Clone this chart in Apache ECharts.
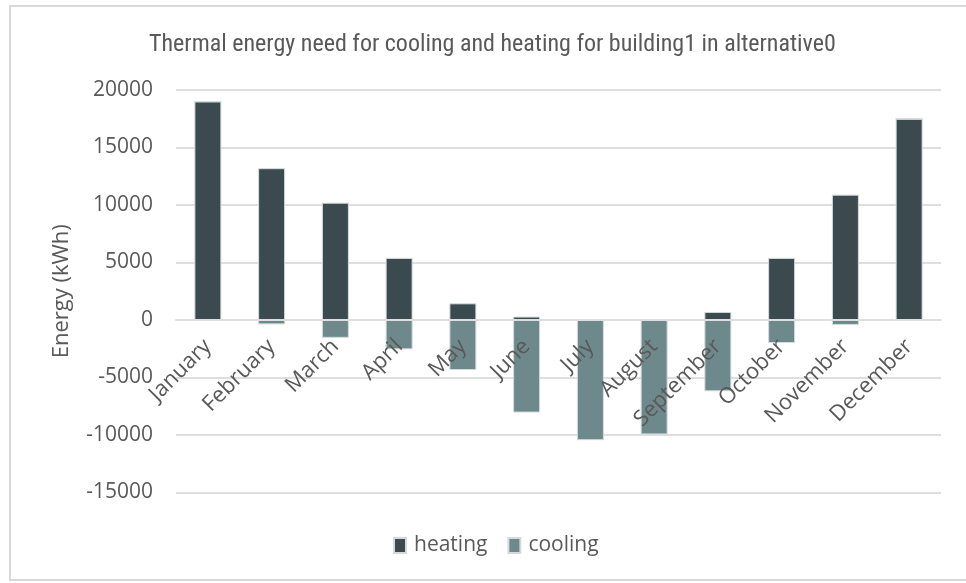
<!DOCTYPE html>
<html>
<head>
<meta charset="utf-8">
<script src="https://cdn.jsdelivr.net/npm/echarts@6/dist/echarts.min.js"></script>
<style>
  html, body { margin: 0; padding: 0; background: #ffffff; }
  #chart { width: 966px; height: 583px; }
</style>
</head>
<body>
<div id="chart"></div>
<script>
// Monthly thermal energy need (kWh) for building1, alternative0
const months = ['January', 'February', 'March', 'April', 'May', 'June',
                'July', 'August', 'September', 'October', 'November', 'December'];
const heating = [19000, 13200, 10200, 5400, 1450, 300, 0, 0, 700, 5400, 10900, 17500];
const cooling = [0, -380, -1550, -2550, -4350, -8050, -10450, -9950, -6200, -2000, -430, 0];
const yTicks = { min: -15000, max: 20000, step: 5000 };

const textGrey = '#595959';
const gridGrey = '#dedede';

const gridTop = 90;
const gridBottomY = 492.5;
// pixel offset that lifts the category axis from the plot bottom to the zero line
const zeroOffset = -(gridBottomY - gridTop) * (0 - yTicks.min) / (yTicks.max - yTicks.min);

const chart = echarts.init(document.getElementById('chart'), null, { renderer: 'canvas' });

chart.setOption({
  backgroundColor: '#ffffff',
  animation: false,
  title: {
    text: 'Thermal energy need for cooling and heating for building1 in alternative0',
    left: 144,
    top: 28,
    textStyle: {
      fontFamily: '"Roboto Condensed", "Roboto", sans-serif',
      fontWeight: 'normal',
      fontSize: 24,
      color: textGrey
    }
  },
  legend: {
    data: ['heating', 'cooling'],
    bottom: 22,
    left: 388,
    icon: 'rect',
    itemWidth: 12,
    itemHeight: 15,
    itemGap: 20,
    textStyle: {
      fontFamily: '"Open Sans", sans-serif',
      fontSize: 21,
      color: textGrey,
      padding: [0, 0, 0, 3]
    }
  },
  grid: {
    left: 176,
    right: 25,
    top: gridTop,
    bottom: 583 - gridBottomY,
    containLabel: false
  },
  xAxis: {
    type: 'category',
    data: months,
    position: 'bottom',
    offset: zeroOffset,
    z: 10,
    axisLine: { show: true, onZero: false, lineStyle: { color: gridGrey, width: 2 } },
    axisTick: { show: false },
    axisLabel: {
      rotate: 45,
      margin: 23,
      interval: 0,
      fontFamily: '"Open Sans", sans-serif',
      fontSize: 22,
      color: textGrey
    }
  },
  yAxis: {
    type: 'value',
    min: yTicks.min,
    max: yTicks.max,
    interval: yTicks.step,
    name: 'Energy (kWh)',
    nameLocation: 'middle',
    nameGap: 103,
    nameTextStyle: {
      fontFamily: '"Open Sans", sans-serif',
      fontSize: 22,
      color: textGrey
    },
    axisLine: { show: false },
    axisTick: { show: false },
    axisLabel: {
      margin: 23,
      formatter: (v) => String(v),
      fontFamily: '"Open Sans", sans-serif',
      fontSize: 21,
      color: textGrey
    },
    splitLine: { lineStyle: { color: gridGrey, width: 2 } }
  },
  series: [
    {
      name: 'heating',
      type: 'bar',
      stack: 'energy',
      data: heating,
      barWidth: 27,
      itemStyle: { color: '#3b4a4e', borderColor: '#d5dbdc', borderWidth: 1 }
    },
    {
      name: 'cooling',
      type: 'bar',
      stack: 'energy',
      data: cooling,
      barWidth: 27,
      itemStyle: { color: '#6e898c', borderColor: '#d5dbdc', borderWidth: 1 }
    }
  ],
  graphic: [
    {
      type: 'rect',
      silent: true,
      z: -1,
      shape: { x: 10, y: 6, width: 990, height: 574 },
      style: { fill: 'none', stroke: '#d9d9d9', lineWidth: 2 }
    }
  ]
});
</script>
</body>
</html>
